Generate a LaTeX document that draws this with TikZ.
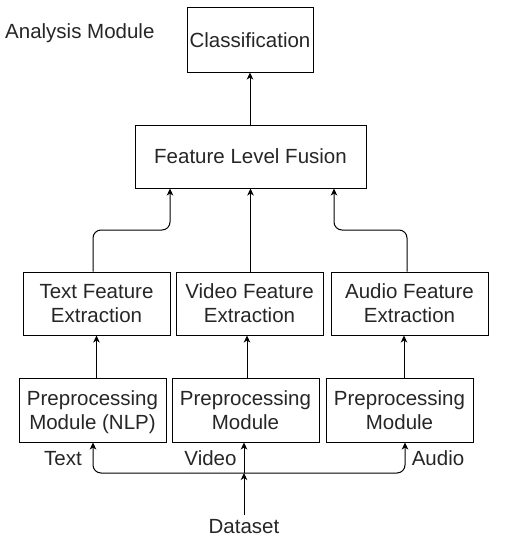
\documentclass[tikz,border=0pt]{standalone}
\usepackage{fontspec}
\setmainfont{Liberation Sans}
\usetikzlibrary{arrows.meta}
\begin{document}
\begin{tikzpicture}[x=1pt,y=-1pt,
  txt/.style={font=\fontsize{20.5}{24}\selectfont, text=black!85},
  box/.style={txt, draw=black, line width=1pt, minimum width=147pt, minimum height=63pt, align=center, inner sep=0pt, text depth=0pt},
  lbl/.style={txt, inner sep=0pt},
  conn/.style={line width=1pt, -{Stealth[length=7pt,width=6.5pt,inset=2pt]}, rounded corners=8pt}]
\useasboundingbox (0,0) rectangle (510,543);
\node[box, minimum width=126pt, minimum height=64pt] (cls) at (250,40) {Classification};
\node[box, minimum width=231pt] (flf) at (250.5,156.5) {Feature Level Fusion};
\node[box] (tfe) at (96.5,303.5) {Text Feature\\Extraction};
\node[box] (vfe) at (249.5,303.5) {Video Feature\\Extraction};
\node[box, minimum width=157pt] (afe) at (409.5,303.5) {Audio Feature\\Extraction};
\node[box, minimum height=64pt] (tpp) at (92.5,410) {Preprocessing\\Module (NLP)};
\node[box, minimum height=64pt] (vpp) at (245.5,410) {Preprocessing\\Module};
\node[box, minimum height=64pt] (app) at (399.5,410) {Preprocessing\\Module};
\node[lbl, anchor=base] (ds) at (244,533) {Dataset};
\node[lbl, anchor=base west] (am) at (5,38) {Analysis Module};
\node[lbl, anchor=base] (lt) at (63,465) {Text};
\node[lbl, anchor=base] (lv) at (210.5,465) {Video};
\node[lbl, anchor=base] (la) at (438,465) {Audio};
\coordinate (j1) at (170,230);
\coordinate (j3) at (334,230);
\coordinate (bus) at (244,473);
% top arrows
\draw[conn] (cls.south |- flf.north) -- (cls.south);
\draw[conn] ([xshift=-3.5pt]tfe.north) |- (j1) -- (j1 |- flf.south);
\draw[conn] (flf.south |- vfe.north) -- (flf.south);
\draw[conn] ([xshift=-2.5pt]afe.north) |- (j3) -- (j3 |- flf.south);
% preprocessing to features
\draw[conn] (tfe.south |- tpp.north) -- (tfe.south);
\draw[conn] ([xshift=1.5pt]vpp.north) -- ([xshift=1.5pt]vpp.north |- vfe.south);
\draw[conn] ([xshift=4.5pt]app.north) -- ([xshift=4.5pt]app.north |- afe.south);
% dataset bus
\draw[conn] ([yshift=4pt]ds.north) -- (bus);
\draw[conn] (bus) -- (bus |- vpp.south);
\draw[conn] (bus) -| ([xshift=0.5pt]tpp.south);
\draw[conn] (bus) -| ([xshift=5.5pt]app.south);
\end{tikzpicture}
\end{document}
